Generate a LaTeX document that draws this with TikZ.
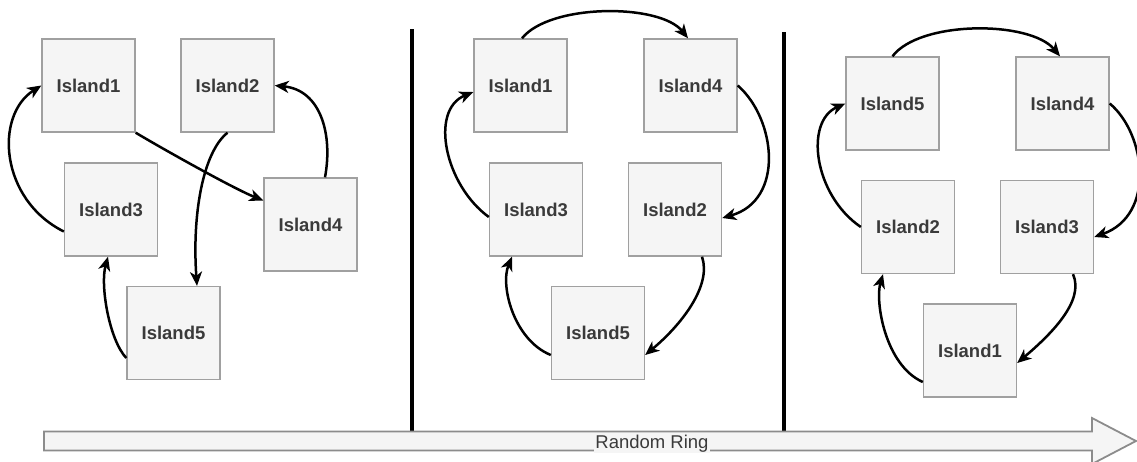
\documentclass[tikz,border=0pt]{standalone}
\usepackage{fontspec}
\setmainfont{Liberation Sans}
\usetikzlibrary{arrows.meta,calc}
\definecolor{boxfill}{HTML}{F5F5F5}
\definecolor{boxline}{HTML}{A0A0A0}
\definecolor{txt}{HTML}{3A3A3A}
\definecolor{arrowline}{HTML}{8C8C8C}
\tikzset{
  island/.style={draw=boxline, fill=boxfill, line width=1.4pt, minimum width=93pt, minimum height=93pt,
    inner sep=0pt, text=txt, font=\fontsize{18.5}{22}\selectfont\bfseries},
  link/.style={draw=black, line width=2.5pt, -{Stealth[length=14pt,width=12pt,inset=4pt]}},
  divider/.style={draw=black, line width=3.2pt},
  bigarrow/.style={draw=arrowline, fill=boxfill, line width=1.8pt, line join=miter},
  ringlabel/.style={fill=boxfill, inner xsep=1pt, inner ysep=0pt, text=txt, font=\fontsize{18.5}{20}\selectfont}
}
\begin{document}
\begin{tikzpicture}[x=1pt,y=-1pt]
\useasboundingbox (0,0) rectangle (1137,461);
\clip (0,0) rectangle (1137,461);
% ---------- panel 1 ----------
\node[island] (a1) at (88.5,85.5) {Island1};
\node[island] (a2) at (227.5,85.5) {Island2};
\node[island] (a3) at (111,209.5) {Island3};
\node[island] (a4) at (310.5,224.5) {Island4};
\node[island] (a5) at (173.5,333) {Island5};
\draw[link] ([yshift=-22pt]a3.west) .. controls +(-64,-32) and +(-47,30) .. (a1.west);
\draw[link] (a1.south east) .. controls +(25,15) and +(-30,-12) .. ([yshift=24pt]a4.west);
\draw[link] ([xshift=14.5pt]a4.north) .. controls +(8,-43) and +(46,4.5) .. (a2.east);
\draw[link] (a2.south) .. controls +(-25,20) and +(-5,-70) .. ([xshift=23.5pt]a5.north);
\draw[link] ([yshift=-25pt]a5.west) .. controls +(-17,-18) and +(-8,29) .. ([xshift=-3pt]a3.south);
% divider 1
\coordinate (d1t) at (412,29);
\coordinate (d1b) at (412,431);
\draw[divider] (d1t) -- (d1b);
% ---------- panel 2 ----------
\node[island] (b1) at (520.5,85.5) {Island1};
\node[island] (b4) at (690.5,85.5) {Island4};
\node[island] (b3) at (536,209.5) {Island3};
\node[island] (b2) at (675,209.5) {Island2};
\node[island] (b5) at (598,333) {Island5};
\draw[link] ([xshift=1.5pt]b1.north) .. controls +(28,-35) and +(-28,-35) .. ([xshift=-2.5pt]b4.north);
\draw[link] (b4.east) .. controls +(38,33) and +(63,-18) .. ([yshift=-8.5pt]b2.east);
\draw[link] ([xshift=27pt]b2.south) .. controls +(10,29) and +(36,-30) .. ([yshift=-22pt]b5.east);
\draw[link] ([yshift=-22pt]b5.west) .. controls +(-37,-15) and +(-12,29) .. ([xshift=-24pt]b3.south);
\draw[link] ([yshift=-7.5pt]b3.west) .. controls +(-44,-32) and +(-44,18) .. ([yshift=-6.5pt]b1.west);
% divider 2
\coordinate (d2t) at (784,32);
\coordinate (d2b) at (784,431);
\draw[divider] (d2t) -- (d2b);
% ---------- panel 3 ----------
\node[island] (c5) at (892.5,103.5) {Island5};
\node[island] (c4) at (1062.5,103.5) {Island4};
\node[island] (c2) at (908,227) {Island2};
\node[island] (c3) at (1047,227) {Island3};
\node[island] (c1) at (970,350.5) {Island1};
\draw[link] (c5.north) .. controls +(27,-36) and +(-30,-36) .. ([xshift=-2.5pt]c4.north);
\draw[link] (c4.east) .. controls +(36,30) and +(62,-22) .. ([yshift=-10pt]c3.east);
\draw[link] ([xshift=26pt]c3.south) .. controls +(12,27) and +(33,-28) .. ([yshift=-12.5pt]c1.east);
\draw[link] ([yshift=-31.5pt]c1.west) .. controls +(-38,-17) and +(-8,27) .. ([xshift=-25pt]c2.south);
\draw[link] (c2.west) .. controls +(-47,-32) and +(-41,18) .. (c5.west);
% ---------- bottom arrow ----------
\draw[bigarrow] (44,431.5) -- (1092,431.5) -- (1092,418) -- (1136,441) -- (1092,464) -- (1092,450.5) -- (44,450.5) -- cycle;
\node[ringlabel] (ring) at (652,444) {Random Ring};
\end{tikzpicture}
\end{document}
